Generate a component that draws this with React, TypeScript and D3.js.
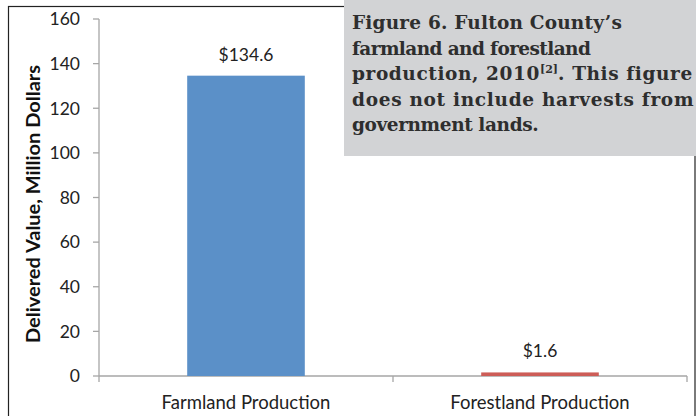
import React from "react";
import * as d3 from "d3";

const categories = ["Farmland Production", "Forestland Production"];
const values = [134.6, 1.6];
const valueLabels = ["$134.6", "$1.6"];
const barColors = ["#5B90C8", "#CD5D57"];
const yTicks = [0, 20, 40, 60, 80, 100, 120, 140, 160];
const yTitle = "Delivered Value, Million Dollars";
const captionLine1 = "Figure 6. Fulton County\u2019s";
const captionLine2 = "farmland and forestland";
const captionLine3a = "production, 2010";
const captionRef = "[2]";
const captionLine3b = ". This figure";
const captionLine4 = "does not include harvests from";
const captionLine5 = "government lands.";

const W = 696;
const H = 416;
const plot = { left: 99, right: 687, top: 19, bottom: 376 };

export default function App() {
  const y = d3.scaleLinear().domain([0, 160]).range([plot.bottom, plot.top]);
  const x = d3
    .scaleBand<string>()
    .domain(categories)
    .range([plot.left, plot.right])
    .paddingInner(0)
    .paddingOuter(0);
  const barW = x.bandwidth() * 0.4;
  const font = "Lato, 'Open Sans', sans-serif";
  const serif = "'DejaVu Serif', serif";
  const axisColor = "#A6A6A6";
  const capColor = "#2e2e2e";
  const capSize = 18.5;
  const lh = 25.5;
  const b0 = 29;

  return (
    <div style={{ position: "fixed", left: 0, top: 0 }}>
      <svg width={W} height={H} style={{ display: "block", background: "#fff" }}>
        {/* chart border */}
        <rect x={8.5} y={6.5} width={686.5} height={420} fill="none" stroke="#222" strokeWidth={1.2} />

        {/* y axis */}
        <line x1={plot.left} x2={plot.left} y1={y(160)} y2={y(0)} stroke={axisColor} strokeWidth={1.3} />
        {yTicks.map((t) => (
          <g key={t}>
            <line x1={plot.left - 6} x2={plot.left} y1={y(t)} y2={y(t)} stroke={axisColor} strokeWidth={1.3} />
            <text
              x={80}
              y={y(t)}
              dy="0.36em"
              textAnchor="end"
              fontFamily={font}
              fontSize={17.5}
              fill="#222"
            >
              {t}
            </text>
          </g>
        ))}

        {/* x axis */}
        <line x1={plot.left} x2={plot.right} y1={y(0)} y2={y(0)} stroke={axisColor} strokeWidth={1.3} />
        {[plot.left, ...categories.map((c) => (x(c) as number) + x.bandwidth())].map((px, i) => (
          <line key={i} x1={px} x2={px} y1={y(0)} y2={y(0) + 6} stroke={axisColor} strokeWidth={1.3} />
        ))}

        {/* bars */}
        {categories.map((c, i) => {
          const cx = (x(c) as number) + x.bandwidth() / 2;
          return (
            <g key={c}>
              <rect
                x={cx - barW / 2}
                y={y(values[i])}
                width={barW}
                height={y(0) - y(values[i])}
                fill={barColors[i]}
              />
              <text
                x={cx}
                y={y(values[i]) - 15}
                textAnchor="middle"
                fontFamily={font}
                fontSize={17.5}
                fill="#222"
              >
                {valueLabels[i]}
              </text>
              <text
                x={cx}
                y={y(0) + 33}
                textAnchor="middle"
                fontFamily={font}
                fontSize={18.5}
                fill="#222"
              >
                {c}
              </text>
            </g>
          );
        })}

        {/* y title */}
        <text
          transform={`translate(40, 204) rotate(-90)`}
          textAnchor="middle"
          fontFamily={font}
          fontWeight="bold"
          fontSize={18.5}
          textLength={278}
          lengthAdjust="spacingAndGlyphs"
          fill="#111"
        >
          {yTitle}
        </text>

        {/* caption box */}
        <rect x={344} y={0} width={W - 344} height={156} fill="#D2D3D5" />
        <g fontFamily={serif} fontWeight="bold" fontSize={capSize} fill={capColor}>
          <text x={352} y={b0} letterSpacing={0.2}>{captionLine1}</text>
          <text x={352} y={b0 + lh} letterSpacing={-0.6}>{captionLine2}</text>
          <text x={352} y={b0 + 2 * lh} letterSpacing={0.6}>
            {captionLine3a}
            <tspan fontSize={11} dy={-7} letterSpacing={0}>{captionRef}</tspan>
            <tspan dy={7}>{captionLine3b}</tspan>
          </text>
          <text x={352} y={b0 + 3 * lh} letterSpacing={0.7}>{captionLine4}</text>
          <text x={352} y={b0 + 4 * lh} letterSpacing={-0.4}>{captionLine5}</text>
        </g>
      </svg>
    </div>
  );
}
